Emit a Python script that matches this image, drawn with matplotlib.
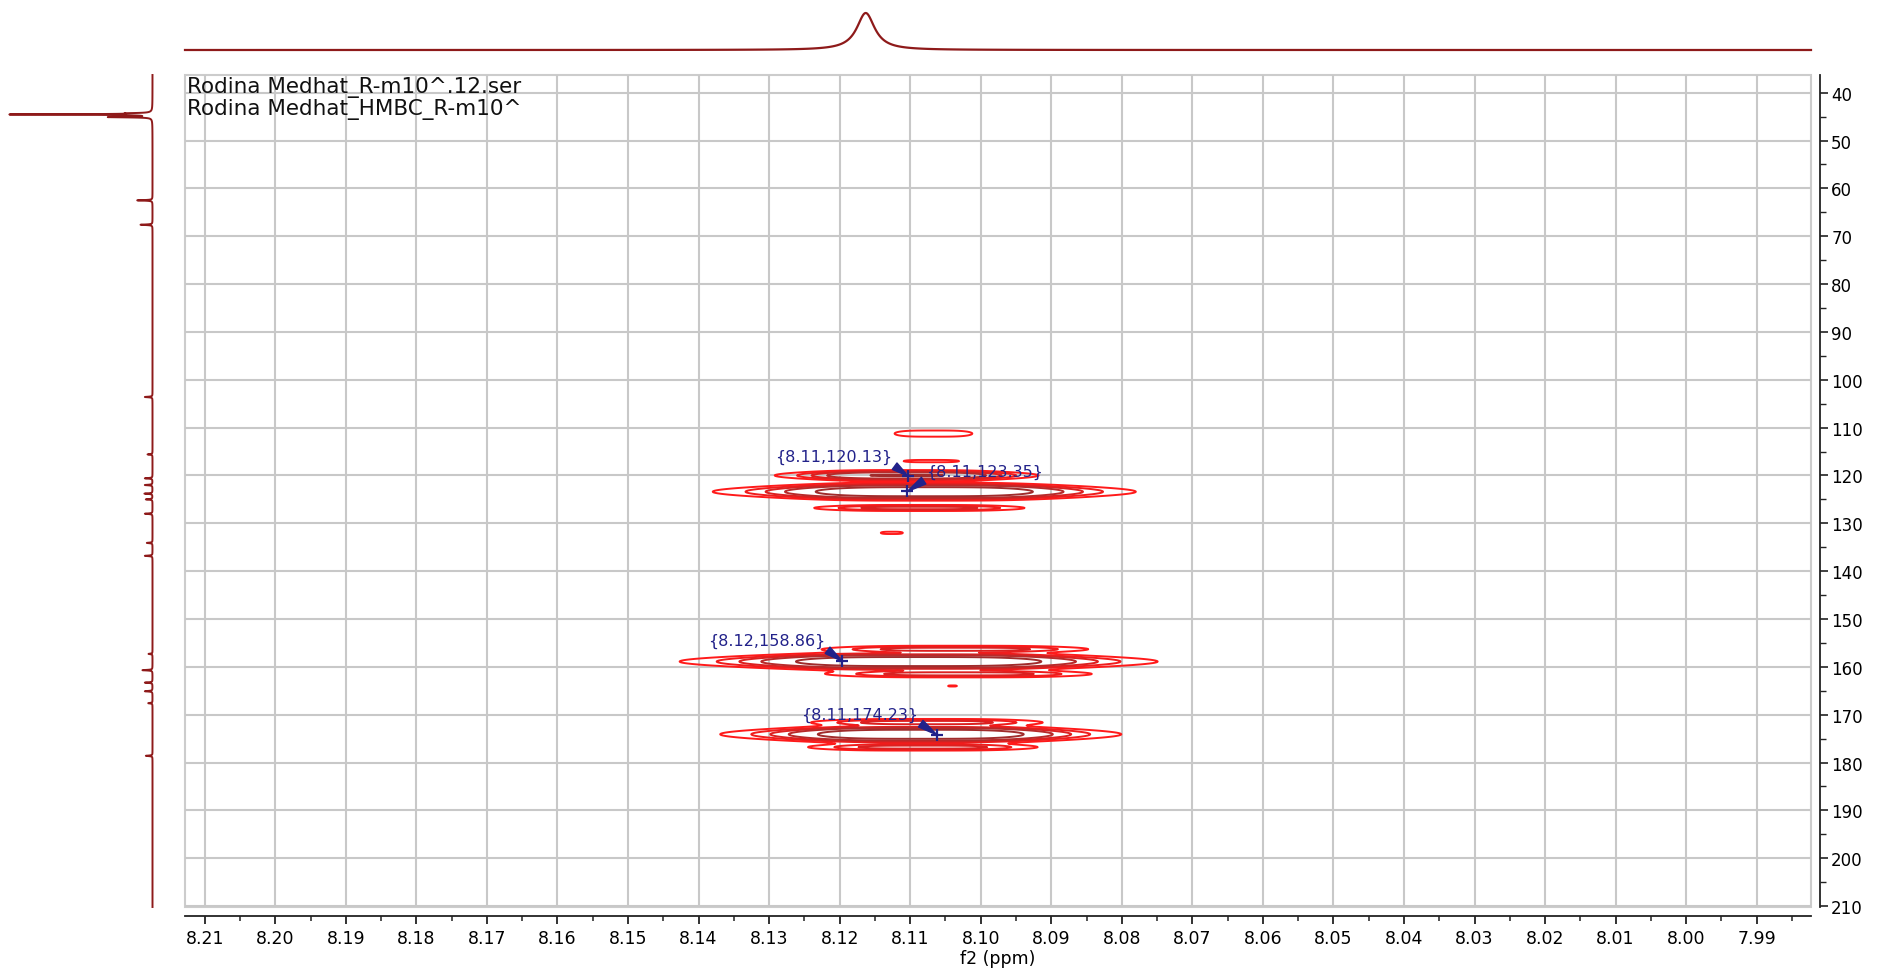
import numpy as np
import matplotlib
matplotlib.use('Agg')
from matplotlib import pyplot as plt
from matplotlib.ticker import MultipleLocator, FormatStrFormatter
from matplotlib.patches import Rectangle

plt.rcParams['path.simplify'] = False

# HMBC R-m10^ : f2 (1H) 8.21-7.99 ppm, f1 (13C) 36-210 ppm
titles = ['Rodina Medhat_R-m10^.12.ser', 'Rodina Medhat_HMBC_R-m10^']

# f2 projection peak (ppm, half width, rel. height)
f2_peaks = [(8.1163, 0.00155, 1.0)]

# f1 projection peaks (ppm, rel. height)
f1_pos = [44.55, 45.1, 44.3, 62.5, 67.6, 103.6, 115.6, 120.6, 122.0, 123.8,
          125.0, 128.0, 134.1, 136.8, 157.3, 160.7, 163.3, 165.1, 167.6, 178.6]
f1_amp = [1.0, 0.30, 0.12, 0.108, 0.085, 0.054, 0.035, 0.054, 0.054, 0.057,
          0.047, 0.054, 0.040, 0.054, 0.028, 0.071, 0.054, 0.054, 0.030, 0.047]
f1_width = 0.07

# cross peaks: f2, f1, f2 width, f1 width, height
cross = [
    (8.1080, 123.4, 0.0154, 0.80, 1.00),
    (8.1105, 120.0, 0.0115, 0.55, 0.52),
    (8.1087, 126.8, 0.0120, 0.40, 0.22),
    (8.1070, 117.0, 0.0050, 0.30, 0.09),
    (8.1067, 111.25, 0.0070, 0.80, 0.09),
    (8.1126, 132.0, 0.0025, 0.45, 0.075),
    (8.1088, 158.9, 0.0174, 0.80, 1.00),
    (8.1035, 156.3, 0.0150, 0.45, 0.22),
    (8.1030, 161.5, 0.0150, 0.45, 0.22),
    (8.1040, 164.0, 0.0012, 0.30, 0.07),
    (8.1085, 174.1, 0.0146, 0.80, 1.00),
    (8.1076, 171.6, 0.0130, 0.45, 0.22),
    (8.1082, 176.8, 0.0130, 0.45, 0.22),
]
levels = [0.065, 0.12, 0.18, 0.27, 0.5]
level_colors = ['#ff1a1a', '#f01c1c', '#dc2020', '#b82a2a', '#a02c2c']

# picked peaks
pick_f2 = [8.1103, 8.1104, 8.1196, 8.1062]
pick_f1 = [120.13, 123.35, 158.86, 174.23]
# label anchor (f2, f1) and where the pointer leaves the label
pick_txt = [(8.1126, 115.97, 'right'), (8.1077, 119.1, 'left'),
            (8.1221, 154.43, 'right'), (8.1089, 169.85, 'right')]
pick_rel = [(0.96, 0.2), (0.04, 0.2), (0.96, 0.2), (0.96, 0.2)]

xlim = (8.2128, 7.9823)
ylim = (210.2, 36.3)
navy = '#22228a'
trace = '#8e1a1a'

W, H = 1878, 970
fig = plt.figure(figsize=(W / 100, H / 100), dpi=100)

ax = fig.add_axes([185 / W, 1 - 908 / H, (1811 - 185) / W, (908 - 76) / H])
ax_top = fig.add_axes([185 / W, 1 - 51 / H, (1811 - 185) / W, 37 / H])
ax_left = fig.add_axes([0, 1 - 908 / H, 153 / W, (908 - 76) / H])

# 2D contour map
x = np.linspace(xlim[1], xlim[0], 1400)
y = np.linspace(ylim[1], ylim[0], 2000)
X, Y = np.meshgrid(x, y)
Z = np.zeros_like(X)
for xc, yc, wx, wy, a in cross:
    Z += a / (1 + ((X - xc) / wx) ** 4) * np.exp(-0.5 * ((Y - yc) / wy) ** 2)
ax.contour(X, Y, Z, levels=levels, colors=level_colors, linewidths=1.4)

ax.set_xlim(xlim)
ax.set_ylim(ylim)
ax.grid(which='major', color='#c8c8c8', lw=1.5)
ax.set_axisbelow(True)
ax.add_patch(Rectangle((0, 0), 1, 1, transform=ax.transAxes, fill=False,
                       ec='#cccccc', lw=1.5, clip_on=False, zorder=0.5))
for s in ['top', 'left']:
    ax.spines[s].set_visible(False)
for s in ['bottom', 'right']:
    ax.spines[s].set_position(('outward', 6.5))
    ax.spines[s].set_color('#222222')
    ax.spines[s].set_linewidth(1.3)

ax.xaxis.set_major_locator(MultipleLocator(0.01))
ax.xaxis.set_minor_locator(MultipleLocator(0.005))
ax.xaxis.set_major_formatter(FormatStrFormatter('%.2f'))
ax.yaxis.tick_right()
ax.yaxis.set_major_locator(MultipleLocator(10))
ax.yaxis.set_minor_locator(MultipleLocator(5))
ax.tick_params(axis='x', which='major', direction='out', length=6, width=1.3,
               color='#222222', pad=3.5, labelsize=12.5)
ax.tick_params(axis='x', which='minor', direction='out', length=3.5, width=1.1,
               color='#222222')
ax.tick_params(axis='y', which='major', direction='out', length=6, width=1.2,
               color='#222222', pad=2, labelsize=12)
ax.tick_params(axis='y', which='minor', direction='out', length=4, width=1.0,
               color='#222222')
ax.set_xlabel('f2 (ppm)', fontsize=12.5, labelpad=1)

ax.text(0.001, 1 - 12 / 832, titles[0], transform=ax.transAxes, fontsize=15.5,
        va='center', ha='left', color='#111111')
ax.text(0.001, 1 - 34 / 832, titles[1], transform=ax.transAxes, fontsize=15.5,
        va='center', ha='left', color='#111111')

# peak picks
ax.plot(pick_f2, pick_f1, '+', color=navy, ms=8, mew=1.6, zorder=5)
for px, py, (tx, ty, ha), rel in zip(pick_f2, pick_f1, pick_txt, pick_rel):
    ax.annotate('{%.2f,%.2f}' % (px, py), xy=(px, py), xytext=(tx, ty),
                ha=ha, va='center', fontsize=11.5, color=navy, zorder=6,
                arrowprops=dict(arrowstyle='wedge,tail_width=0.5',
                                color=navy, relpos=rel, shrinkA=0, shrinkB=0))

# f2 projection
xs = np.linspace(xlim[1], xlim[0], 4000)
ys = np.zeros_like(xs)
for c, w, a in f2_peaks:
    ys += a / (1 + ((xs - c) / w) ** 2)
ax_top.plot(xs, ys, color=trace, lw=1.6, clip_on=False)
ax_top.set_xlim(xlim)
ax_top.set_ylim(0, 1)
ax_top.axis('off')

# f1 projection
yv = np.linspace(ylim[1], ylim[0], 60000)
iv = np.zeros_like(yv)
for c, a in zip(f1_pos, f1_amp):
    iv += a / (1 + ((yv - c) / f1_width) ** 2)
ax_left.plot(iv, yv, color=trace, lw=1.4, clip_on=False, snap=False)
ax_left.set_xlim(152.5 / 141.3, -0.5 / 141.3)
ax_left.set_ylim(ylim)
ax_left.axis('off')

fig.savefig('out.png', dpi=100)
